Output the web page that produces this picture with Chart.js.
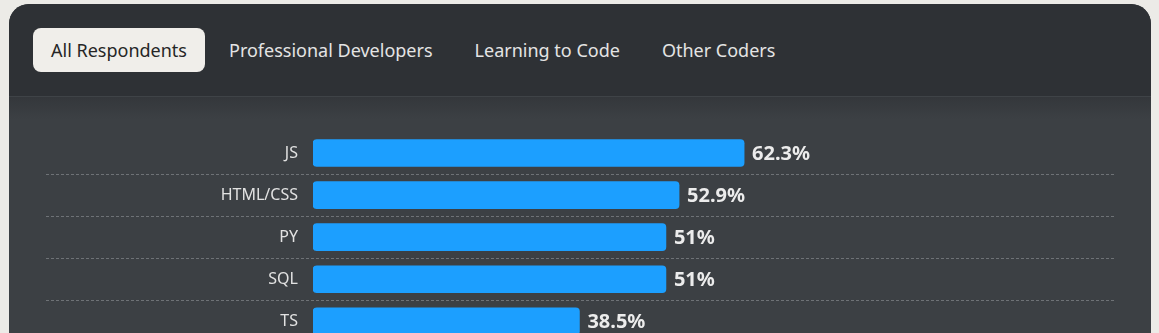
<!DOCTYPE html>
<html lang="en">
<head>
<meta charset="utf-8">
<title>Most popular technologies</title>
<script src="https://cdn.jsdelivr.net/npm/chart.js@4"></script>
<style>
    html, body {
        margin: 0;
        padding: 0;
        background: #ecebe7;
        font-family: "Noto Sans", "Open Sans", sans-serif;
        overflow: hidden;
    }

    .card {
        position: absolute;
        left: 9px;
        top: 4px;
        width: 1142px;
        height: 420px;
        border-radius: 20px;
        overflow: hidden;
        background: #3c4044;
    }

    .tabs {
        height: 93px;
        background: #2e3135;
        border-bottom: 1px solid #3f4347;
        display: flex;
        align-items: flex-start;
        gap: 6px;
        padding: 24px 0 0 24px;
        box-sizing: border-box;
    }

    .tab {
        height: 44px;
        line-height: 44px;
        padding: 0 18px;
        border-radius: 8px;
        font-size: 18px;
        color: #e4e4e4;
    }

    .tab.active {
        background: #f0eeea;
        color: #262626;
    }

    .body {
        position: relative;
        height: 330px;
        background: linear-gradient(#34373b, #3c4044 22px);
    }

    .grafico {
        position: absolute;
        left: 0;
        top: 0;
        width: 1142px;
        height: 270px;
    }
</style>
</head>
<body>
<div class="card">
    <div class="tabs">
        <div class="tab active">All Respondents</div>
        <div class="tab">Professional Developers</div>
        <div class="tab">Learning to Code</div>
        <div class="tab">Other Coders</div>
    </div>
    <div class="body">
        <div class="grafico">
            <canvas id="graficoLinguagens"></canvas>
        </div>
    </div>
</div>

<script>
// languages shown in the ranking and their share of respondents (%)
const linguagens = ["JS", "HTML/CSS", "PY", "SQL", "TS"];

const percentuais = [62.3, 52.9, 51, 51, 38.5];

const rotulosPercentuais = ["62.3%", "52.9%", "51%", "51%", "38.5%"];

// dotted separators between rows, spanning under the labels too
const pluginSeparadores = {

    id: "separadores",

    beforeDatasetsDraw(chart) {

        const { ctx } = chart;

        const escalaY = chart.scales.y;

        ctx.save();

        ctx.strokeStyle = "#6e7276";

        ctx.lineWidth = 1;

        ctx.setLineDash([3, 2]);

        for (let i = 0; i < linguagens.length - 1; i++) {

            const y =
                Math.round(
                    (
                        escalaY.getPixelForValue(i) +
                        escalaY.getPixelForValue(i + 1)
                    ) / 2
                ) + 0.5;

            ctx.beginPath();

            ctx.moveTo(37, y);

            ctx.lineTo(1106, y);

            ctx.stroke();
        }

        ctx.restore();
    }
};

// percentage written right after each bar
const pluginValores = {

    id: "valores",

    afterDatasetsDraw(chart) {

        const { ctx } = chart;

        const meta = chart.getDatasetMeta(0);

        ctx.save();

        ctx.font = "bold 20px 'Noto Sans', 'Open Sans', sans-serif";

        ctx.fillStyle = "#ececec";

        ctx.textAlign = "left";

        ctx.textBaseline = "middle";

        meta.data.forEach((barra, i) => {

            ctx.fillText(
                rotulosPercentuais[i],
                barra.x + 8,
                barra.y + 1
            );
        });

        ctx.restore();
    }
};

new Chart(
    document.getElementById("graficoLinguagens"),
    {
        type: "bar",

        data: {

            labels: linguagens,

            datasets: [
                {
                    data: percentuais,

                    backgroundColor: "#1c9fff",

                    borderRadius: 4,

                    borderSkipped: false,

                    barThickness: 27
                }
            ]
        },

        options: {

            indexAxis: "y",

            responsive: true,

            maintainAspectRatio: false,

            animation: false,

            layout: {
                padding: {
                    top: 35,
                    right: 146,
                    bottom: 15,
                    left: 0
                }
            },

            plugins: {

                legend: {
                    display: false
                },

                tooltip: {
                    enabled: false
                }
            },

            scales: {

                x: {
                    display: false,
                    min: 0,
                    max: 100
                },

                y: {

                    afterFit: escala => {
                        escala.width = 304;
                    },

                    border: {
                        display: false
                    },

                    grid: {
                        display: false,
                        drawTicks: false
                    },

                    ticks: {

                        padding: 15,

                        color: "#e2e2e2",

                        font: {
                            family: "'Noto Sans', 'Open Sans', sans-serif",
                            size: 16
                        }
                    }
                }
            }
        },

        plugins: [
            pluginSeparadores,
            pluginValores
        ]
    }
);
</script>
</body>
</html>
